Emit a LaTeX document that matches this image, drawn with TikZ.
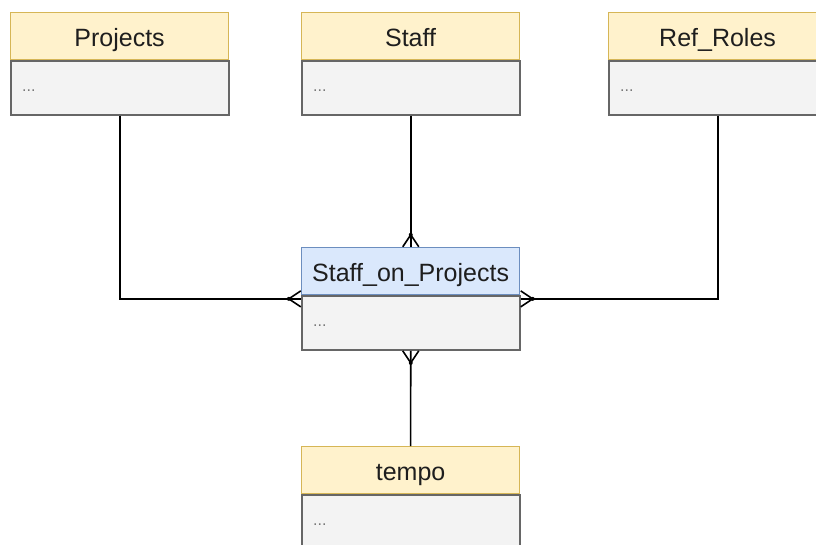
\documentclass[tikz,border=0pt]{standalone}
\usepackage{fontspec}
\setmainfont{Liberation Sans}
\usetikzlibrary{fit,calc}
\definecolor{hdrfill}{HTML}{FFF2CC}
\definecolor{hdrline}{HTML}{D6B656}
\definecolor{bluefill}{HTML}{DAE8FC}
\definecolor{blueline}{HTML}{6C8EBF}
\definecolor{bodyfill}{HTML}{F3F3F3}
\definecolor{bodyline}{HTML}{666666}
\definecolor{txt}{HTML}{1E1E1E}
\definecolor{dotc}{HTML}{777777}
\tikzset{
  hdr/.style={draw=hdrline, fill=hdrfill, line width=1.2pt, minimum width=218pt, minimum height=47pt,
    anchor=north west, inner sep=0pt, text=txt, text height=21pt, text depth=0pt,
    font=\fontsize{25}{27}\selectfont},
  hdrblue/.style={hdr, draw=blueline, fill=bluefill},
  bodybox/.style={draw=bodyline, fill=bodyfill, line width=1.5pt, minimum width=218pt, minimum height=54pt,
    anchor=north west, inner sep=0pt},
  dots/.style={anchor=west, text=dotc, inner sep=0pt, font=\fontsize{16}{18}\selectfont},
  conn/.style={draw=black, line width=1.6pt},
  whole/.style={inner sep=0pt, draw=none},
}
\begin{document}
\begin{tikzpicture}[x=1pt,y=-1pt]
\useasboundingbox (0,0) rectangle (816,544);
% entities
\node[hdr] (proj) at (10,12) {Projects};
\node[bodybox] (projb) at (proj.south west) {};
\node[dots] (projd) at ([xshift=12pt,yshift=-3pt]projb.west) {...};

\node[hdr] (staff) at (301,12) {Staff};
\node[bodybox] (staffb) at (staff.south west) {};
\node[dots] (staffd) at ([xshift=12pt,yshift=-3pt]staffb.west) {...};

\node[hdr] (roles) at (608,12) {Ref\_Roles};
\node[bodybox] (rolesb) at (roles.south west) {};
\node[dots] (rolesd) at ([xshift=12pt,yshift=-3pt]rolesb.west) {...};

\node[hdrblue] (sop) at (301,247) {Staff\_on\_Projects};
\node[bodybox] (sopb) at (sop.south west) {};
\node[dots] (sopd) at ([xshift=12pt,yshift=-3pt]sopb.west) {...};
\node[whole, fit=(sop)(sopb)] (sopall) {};

\node[hdr] (tempo) at (301,446) {tempo};
\node[bodybox] (tempob) at (tempo.south west) {};
\node[dots] (tempod) at ([xshift=12pt,yshift=-3pt]tempob.west) {...};

% connectors
\draw[conn] (projb.south) |- (sopall.west);
\draw[conn] (staffb.south) -- (sopall.north);
\draw[conn] (rolesb.south) |- (sopall.east);
\draw[conn] (tempo.north) -- (sopall.south);

% crow's feet
\draw[conn] ([xshift=-8pt]sopall.north) -- ([yshift=12pt]sopall.north) -- ([xshift=8pt]sopall.north);
\fill ([yshift=12pt]sopall.north) circle (2pt);
\draw[conn] ([xshift=-8pt]sopall.south) -- ([yshift=-12pt]sopall.south) -- ([xshift=8pt]sopall.south);
\fill ([yshift=-12pt]sopall.south) circle (2pt);
\draw[conn] ([yshift=-8pt]sopall.west) -- ([xshift=-12pt]sopall.west) -- ([yshift=8pt]sopall.west);
\fill ([xshift=-12pt]sopall.west) circle (2pt);
\draw[conn] ([yshift=-8pt]sopall.east) -- ([xshift=12pt]sopall.east) -- ([yshift=8pt]sopall.east);
\fill ([xshift=12pt]sopall.east) circle (2pt);
\end{tikzpicture}
\end{document}
